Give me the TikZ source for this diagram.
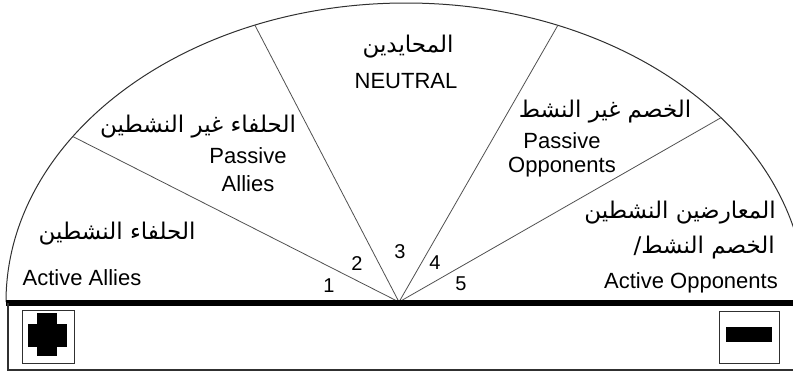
\documentclass[tikz,border=0pt]{standalone}
\usepackage{fontspec}
\setmainfont{Liberation Sans}
\newfontfamily\arabicfont[Script=Arabic]{DejaVu Sans}
\TeXXeTstate=1
\usetikzlibrary{positioning}
\definecolor{rimGray}{HTML}{303030}
\definecolor{spokeGray}{HTML}{505050}

\begin{document}
\begin{tikzpicture}[x=1pt, y=-1pt,
    rimline/.style={draw=rimGray, line width=1pt},
    spoke/.style={draw=spokeGray, line width=0.8pt},
    entext/.style={font=\fontsize{22}{22}\selectfont, anchor=base, inner sep=0pt},
    numtext/.style={font=\fontsize{20}{20}\selectfont, anchor=base, inner sep=0pt},
    artext/.style={font=\arabicfont\fontsize{23}{23}\selectfont, inner sep=0pt},
    signbox/.style={draw=rimGray, line width=1pt}]
  \useasboundingbox (0,0) rectangle (793,372);
  \clip (0,0) rectangle (793,372);
  % half ellipse, ground line and the lower strip
  \draw[rimline] (6,302) arc[start angle=180, end angle=360, x radius=400, y radius=299];
  \coordinate (hub) at (399,302);
  \coordinate (rimA) at (72.8,136.5);
  \coordinate (rimB) at (254.9,25.2);
  \coordinate (rimC) at (557.8,25.4);
  \coordinate (rimD) at (721,117.7);
  \draw[spoke] (hub) -- (rimA);
  \draw[spoke] (hub) -- (rimB);
  \draw[spoke] (hub) -- (rimC);
  \draw[spoke] (hub) -- (rimD);
  \coordinate (groundL) at (6,303);
  \coordinate (groundR) at (793,303);
  \draw[line width=5.5pt] (groundL) -- (groundR);
  \draw[line width=1.2pt, rimGray] (8,303) -- (8,370) -- (793,370);
  % sectors
  \node[artext] (neutralAr) at (408,47) {\arabicfont\beginR المحايدين\endR};
  \node[entext] (neutralEn) at (406,88) {NEUTRAL};
  \node[artext] (passAlliesAr) at (198,127) {\arabicfont\beginR الحلفاء غير النشطين\endR};
  \node[entext] (passAlliesEn) at (248,163) {Passive};
  \node[entext] (passAlliesEnB) at (248,191) {Allies};
  \node[artext] (passOppAr) at (605,112) {\arabicfont\beginR الخصم غير النشط\endR};
  \node[entext] (passOppEn) at (562,148) {Passive};
  \node[entext] (passOppEnB) at (562,172) {Opponents};
  \node[artext] (actAlliesAr) at (117,234) {\arabicfont\beginR الحلفاء النشطين\endR};
  \node[entext] (actAlliesEn) at (82,285) {Active Allies};
  \node[artext] (actOppAr) at (680,213) {\arabicfont\beginR المعارضين النشطين\endR};
  \node[artext, anchor=east] (actOppArB) at (775,248) {\arabicfont/\beginR الخصم النشط\endR};
  \node[entext] (actOppEn) at (691,288) {Active Opponents};
  % sector numbers
  \node[numtext] (nOne) at (329,292) {1};
  \node[numtext] (nTwo) at (357,270) {2};
  \node[numtext] (nThree) at (400,258) {3};
  \node[numtext] (nFour) at (435,269) {4};
  \node[numtext] (nFive) at (461,290) {5};
  % plus and minus signs
  \draw[signbox] (22,310) rectangle (74,363);
  \fill (37,313) rectangle (57,356);
  \fill (28,324) rectangle (67,347);
  \draw[signbox] (719,311) rectangle (779,363);
  \fill (726,327) rectangle (772,342);
\end{tikzpicture}
\end{document}
